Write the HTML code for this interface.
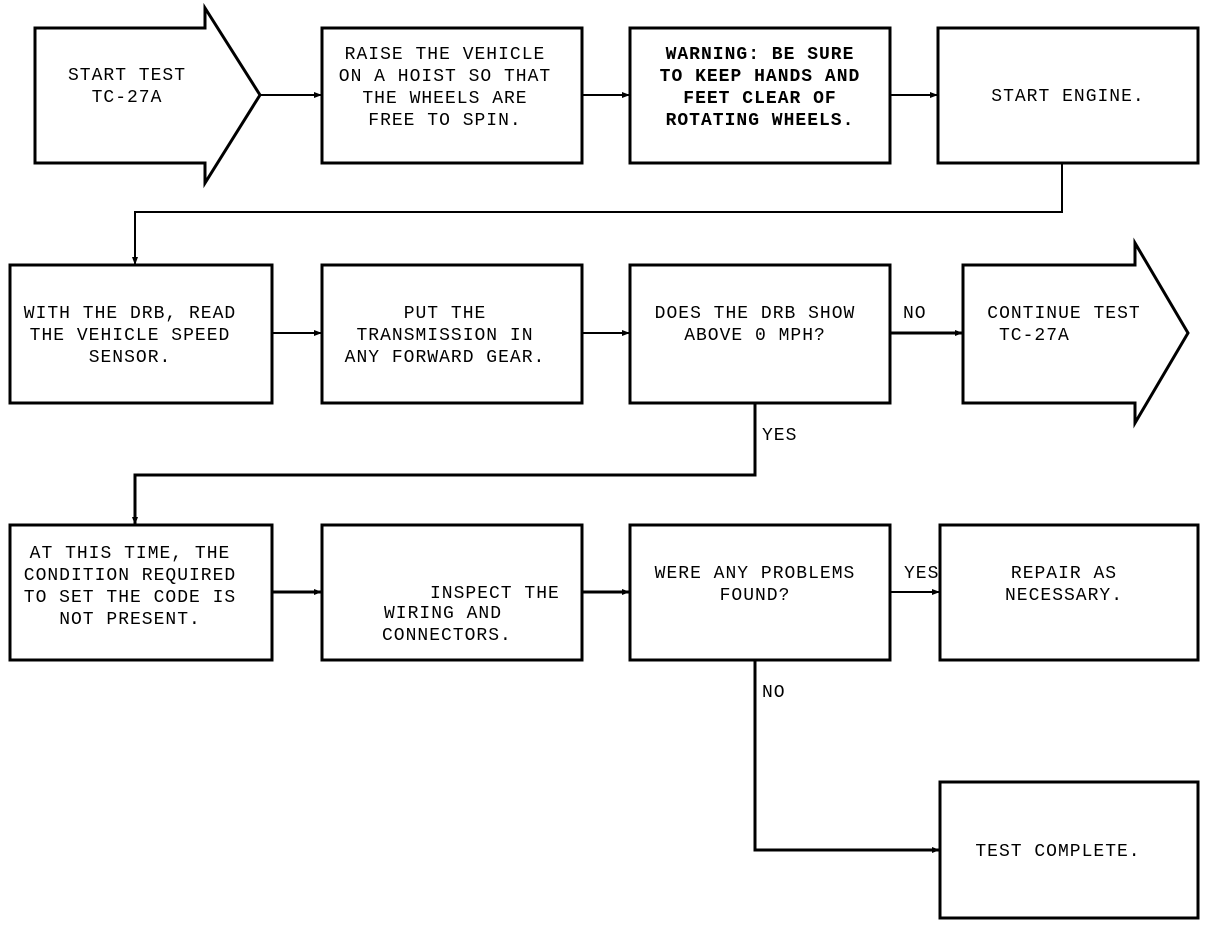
<!DOCTYPE html>
<html><head><meta charset="utf-8"><style>
html,body{margin:0;padding:0;background:#fff;}
svg{display:block;}
text{font-family:"Liberation Mono",monospace;font-size:18px;letter-spacing:1px;fill:#000;}
</style></head><body>
<svg width="1216" height="926" viewBox="0 0 1216 926" xmlns="http://www.w3.org/2000/svg">
<defs><marker id="a" markerWidth="8" markerHeight="8" refX="7" refY="4" orient="auto" markerUnits="userSpaceOnUse"><path d="M0,1 L8,4 L0,7 Z" fill="#000"/></marker></defs>
<g fill="none" stroke="#000" stroke-width="3">
<polygon points="35,28 205,28 205,8 260,95 205,183 205,163 35,163"/>
<rect x="322" y="28" width="260" height="135"/>
<rect x="630" y="28" width="260" height="135"/>
<rect x="938" y="28" width="260" height="135"/>
<rect x="10" y="265" width="262" height="138"/>
<rect x="322" y="265" width="260" height="138"/>
<rect x="630" y="265" width="260" height="138"/>
<polygon points="963,265 1135,265 1135,243 1188,333 1135,423 1135,403 963,403"/>
<rect x="10" y="525" width="262" height="135"/>
<rect x="322" y="525" width="260" height="135"/>
<rect x="630" y="525" width="260" height="135"/>
<rect x="940" y="525" width="258" height="135"/>
<rect x="940" y="782" width="258" height="136"/>
</g>
<g fill="none" stroke="#000" stroke-width="2">
<line x1="260" y1="95" x2="321" y2="95" marker-end="url(#a)"/>
<line x1="582" y1="95" x2="629" y2="95" marker-end="url(#a)"/>
<line x1="890" y1="95" x2="937" y2="95" marker-end="url(#a)"/>
<polyline points="1062,163 1062,212 135,212 135,264" marker-end="url(#a)"/>
<line x1="272" y1="333" x2="321" y2="333" marker-end="url(#a)"/>
<line x1="582" y1="333" x2="629" y2="333" marker-end="url(#a)"/>
<line x1="890" y1="333" x2="962" y2="333" stroke-width="3" marker-end="url(#a)"/>
<polyline points="755,403 755,475 135,475 135,524" stroke-width="3" marker-end="url(#a)"/>
<line x1="272" y1="592" x2="321" y2="592" stroke-width="3" marker-end="url(#a)"/>
<line x1="582" y1="592" x2="629" y2="592" stroke-width="3" marker-end="url(#a)"/>
<line x1="890" y1="592" x2="939" y2="592" marker-end="url(#a)"/>
<polyline points="755,660 755,850 939,850" stroke-width="3" marker-end="url(#a)"/>
</g>
<g text-anchor="middle">
<text x="127" y="80">START TEST</text><text x="127" y="102">TC-27A</text>
<text x="445" y="59">RAISE THE VEHICLE</text><text x="445" y="81">ON A HOIST SO THAT</text><text x="445" y="103">THE WHEELS ARE</text><text x="445" y="125">FREE TO SPIN.</text>
<text x="760" y="59" font-weight="bold">WARNING: BE SURE</text><text x="760" y="81" font-weight="bold">TO KEEP HANDS AND</text><text x="760" y="103" font-weight="bold">FEET CLEAR OF</text><text x="760" y="125" font-weight="bold">ROTATING WHEELS.</text>
<text x="1068" y="101">START ENGINE.</text>
<text x="130" y="318">WITH THE DRB, READ</text><text x="130" y="340">THE VEHICLE SPEED</text><text x="130" y="362">SENSOR.</text>
<text x="445" y="318">PUT THE</text><text x="445" y="340">TRANSMISSION IN</text><text x="445" y="362">ANY FORWARD GEAR.</text>
<text x="755" y="318">DOES THE DRB SHOW</text><text x="755" y="340">ABOVE 0 MPH?</text>
<text x="1064" y="318">CONTINUE TEST</text>
<text x="130" y="558">AT THIS TIME, THE</text><text x="130" y="580">CONDITION REQUIRED</text><text x="130" y="602">TO SET THE CODE IS</text><text x="130" y="624">NOT PRESENT.</text>
<text x="755" y="578">WERE ANY PROBLEMS</text><text x="755" y="600">FOUND?</text>
<text x="1064" y="578">REPAIR AS</text><text x="1064" y="600">NECESSARY.</text>
<text x="1058" y="856">TEST COMPLETE.</text>
</g>
<text x="999" y="340">TC-27A</text>
<text x="430" y="598">INSPECT THE</text>
<text x="384" y="618">WIRING AND</text>
<text x="382" y="640">CONNECTORS.</text>
<text x="903" y="318">NO</text>
<text x="762" y="440">YES</text>
<text x="904" y="578">YES</text>
<text x="762" y="697">NO</text>
</svg>
</body></html>
